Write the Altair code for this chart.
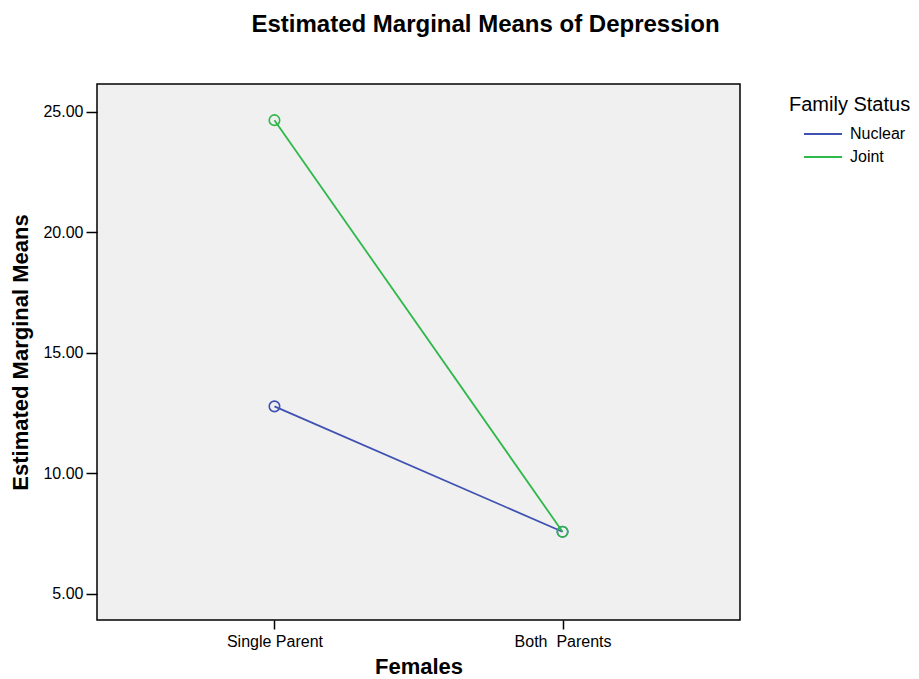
import altair as alt
import pandas as pd

categories = ["Single Parent", "Both\u00a0 Parents"]
nuclear = [12.78, 7.58]
joint = [24.65, 7.58]
series = ["Nuclear", "Joint"]
colors = ["#3f51b1", "#2fb84a"]

rows = []
for name, vals in zip(series, [nuclear, joint]):
    for c, v in zip(categories, vals):
        rows.append({"Females": c, "Mean": v, "Family Status": name})
df = pd.DataFrame(rows)

x = alt.X("Females:N", sort=categories,
          scale=alt.Scale(type="point", padding=0.616),
          axis=alt.Axis(title="Females", labelAngle=0, domain=False, tickColor="black",
                        tickSize=9, tickWidth=1.5, labelFontSize=16, labelColor="black",
                        labelPadding=4, titleFontSize=22, titleFontWeight="bold",
                        titlePadding=7, titleColor="black"))
y = alt.Y("Mean:Q", scale=alt.Scale(domain=[3.92, 26.15], nice=False, zero=False),
          axis=alt.Axis(title="Estimated Marginal Means", values=[5, 10, 15, 20, 25], format=".2f",
                        domain=False, grid=False, tickColor="black", tickSize=11, tickWidth=1.5,
                        labelFontSize=16, labelColor="black", labelPadding=3,
                        titleFontSize=22, titleFontWeight="bold", titlePadding=10,
                        titleColor="black"))
color = alt.Color("Family Status:N", sort=series,
                  scale=alt.Scale(domain=series, range=colors),
                  legend=alt.Legend(orient="none", legendX=692, legendY=11,
                                    symbolType="stroke", symbolSize=1444, symbolStrokeWidth=2,
                                    symbolOffset=14, clipHeight=22,
                                    titleFontSize=20, titleFontWeight="normal", titleColor="black",
                                    labelFontSize=16, labelColor="black", rowPadding=1,
                                    titlePadding=8, labelOffset=7))

lines = alt.Chart(df).mark_line(strokeWidth=1.8).encode(x=x, y=y, color=color, detail="Family Status:N")
points = alt.Chart(df).mark_point(filled=False, size=110, strokeWidth=1.6, opacity=1).encode(
    x=x, y=y, color=alt.Color("Family Status:N", sort=series,
                              scale=alt.Scale(domain=series, range=colors), legend=None))

chart = alt.layer(lines, points).properties(
    width=643, height=536,
    title=alt.TitleParams("Estimated Marginal Means of Depression", fontSize=24, fontWeight="bold",
                          anchor="middle", dx=67, offset=47, color="black"),
    autosize=alt.AutoSizeParams(type="none"),
    padding={"left": 89, "top": 76, "right": 170, "bottom": 63},
).configure(font="Liberation Sans").configure_view(
    fill="#f0f0f0", stroke="black", strokeWidth=1.5
).configure_axis(labelFont="Liberation Sans", titleFont="Liberation Sans")

chart.save("out.html", embed_options={"renderer": "svg", "actions": False})
